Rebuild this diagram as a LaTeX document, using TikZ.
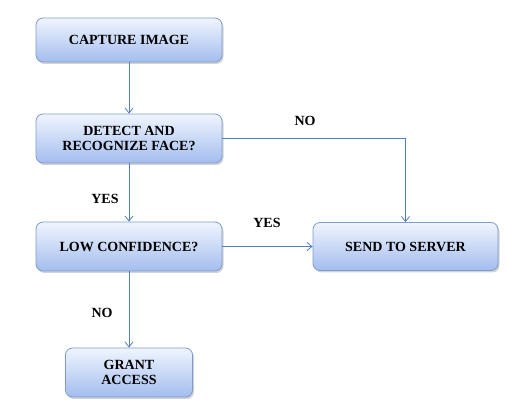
\documentclass[tikz,border=0pt]{standalone}
\usepackage{fontspec}
\setmainfont{Liberation Serif}
\usetikzlibrary{arrows.meta,shadows}
\definecolor{lineblue}{HTML}{4F7FC0}
\definecolor{boxtop}{HTML}{F0F5FE}
\definecolor{boxbot}{HTML}{A3BDEE}
\definecolor{boxedge}{HTML}{7C9BD2}
\tikzset{
  flowbox/.style={draw=boxedge, line width=0.8pt, rounded corners=7pt,
    top color=boxtop, bottom color=boxbot, align=center,
    font=\fontsize{14}{15}\selectfont\bfseries, inner sep=0pt,
    drop shadow={shadow xshift=1.5pt, shadow yshift=-2pt, opacity=0.35, fill=gray}},
  conn/.style={draw=lineblue, line width=0.8pt, -{Straight Barb[length=5pt,width=8pt]}},
  lbl/.style={font=\fontsize{14}{15}\selectfont\bfseries, inner sep=0pt}
}
\begin{document}
\begin{tikzpicture}[x=1pt,y=-1pt]
\useasboundingbox (0,0) rectangle (507,409);
\node[flowbox, minimum width=186pt, minimum height=44pt] (cap) at (129,40) {CAPTURE IMAGE};
\node[flowbox, minimum width=186pt, minimum height=49pt] (det) at (129,138.5) {DETECT AND\\RECOGNIZE FACE?};
\node[flowbox, minimum width=186pt, minimum height=49pt] (low) at (129,246.5) {LOW CONFIDENCE?};
\node[flowbox, minimum width=185pt, minimum height=48pt] (send) at (405.5,246.5) {SEND TO SERVER};
\node[flowbox, minimum width=127pt, minimum height=49pt] (grant) at (129,372.5) {GRANT\\ACCESS};
\draw[conn] (cap.south) -- (det.north);
\draw[conn] (det.south) -- (low.north);
\draw[conn] (det.east) -| (send.north);
\draw[conn] (low.east) -- (send.west);
\draw[conn] (low.south) -- (grant.north);
\node[lbl] (l1) at (305,121) {NO};
\node[lbl] (l2) at (267,223) {YES};
\node[lbl] (l3) at (105,199) {YES};
\node[lbl] (l4) at (102,313) {NO};
\end{tikzpicture}
\end{document}
